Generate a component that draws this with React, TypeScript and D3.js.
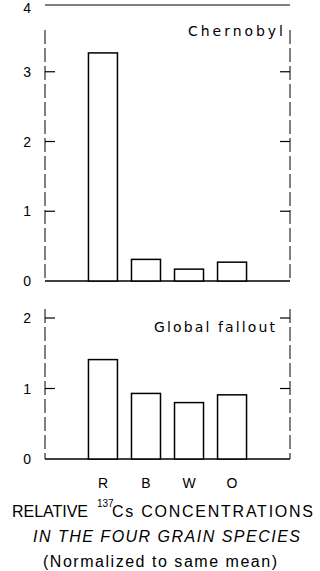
import React from "react";
import * as d3 from "d3";

const categories = ["R", "B", "W", "O"];
const chernobylValues = [3.27, 0.31, 0.17, 0.27];
const falloutValues = [1.41, 0.93, 0.8, 0.91];
const topTicks = [0, 1, 2, 3, 4];
const bottomTicks = [0, 1, 2];
const titleLines = ["IN THE FOUR GRAIN SPECIES", "(Normalized to same mean)"];

const FONT = "'Liberation Sans', Arial, sans-serif";
const WIDE = "'DejaVu Sans', sans-serif";

export default function App() {
  const W = 320, H = 571;
  const left = 45, right = 290;
  const x = d3.scaleBand<string>().domain(categories).range([left, right]).paddingInner(0.326).paddingOuter(1.01);
  const yTop = d3.scaleLinear().domain([0, 4]).range([281, 2]);
  const yBot = d3.scaleLinear().domain([0, 2]).range([459, 318]);

  const panel = (
    y: d3.ScaleLinear<number, number>,
    values: number[],
    ticks: number[],
    top: number,
    label: string,
    labelX: number,
    labelBase: number,
    labelLen: number
  ) => (
    <g>
      <line x1={left} x2={left} y1={top} y2={y(0)} stroke="#000" strokeWidth={1} strokeDasharray="14 4" />
      <line x1={right} x2={right} y1={top} y2={y(0)} stroke="#000" strokeWidth={1} strokeDasharray="14 4" />
      <line x1={left} x2={right} y1={y(0)} y2={y(0)} stroke="#000" strokeWidth={1.4} />
      {ticks.filter(t => t > 0 && y(t) > top).map(t => (
        <g key={t}>
          <line x1={left} x2={left + 10} y1={y(t)} y2={y(t)} stroke="#000" strokeWidth={1.2} />
          <line x1={right} x2={right - 10} y1={y(t)} y2={y(t)} stroke="#000" strokeWidth={1.2} />
        </g>
      ))}
      {ticks.map(t => (
        <text key={"l" + t} x={31} y={Math.max(y(t), 8) + 5} textAnchor="end" fontFamily={FONT} fontSize={14}>{t}</text>
      ))}
      {values.map((v, i) => (
        <rect key={i} x={x(categories[i])} y={y(v)} width={x.bandwidth()} height={y(0) - y(v)} fill="#fff" stroke="#000" strokeWidth={1.5} />
      ))}
      <text x={labelX} y={labelBase} fontFamily={WIDE} fontSize={14} textLength={labelLen} lengthAdjust="spacing">{label}</text>
    </g>
  );

  return (
    <svg width={W} height={H} style={{ position: "absolute", left: 0, top: 0, background: "#fff" }}>
      <line x1={left} x2={right} y1={5} y2={5} stroke="#000" strokeWidth={1.2} />
      {panel(yTop, chernobylValues, topTicks, 30, "Chernobyl", 188, 36, 95)}
      {panel(yBot, falloutValues, bottomTicks, 309, "Global fallout", 154, 332, 121)}
      {categories.map(c => (
        <text key={c} x={(x(c) as number) + x.bandwidth() / 2} y={488} textAnchor="middle" fontFamily={FONT} fontSize={14}>{c}</text>
      ))}
      <text x={12} y={517} fontFamily={FONT} fontSize={16} textLength={76} lengthAdjust="spacing">RELATIVE</text>
      <text x={97} y={507} fontFamily={FONT} fontSize={10}>137</text>
      <text x={112} y={517} fontFamily={FONT} fontSize={16} textLength={201} lengthAdjust="spacing">Cs CONCENTRATIONS</text>
      <text x={33} y={542} fontFamily={FONT} fontSize={16} fontStyle="italic" textLength={267} lengthAdjust="spacing">{titleLines[0]}</text>
      <text x={43} y={567} fontFamily={FONT} fontSize={16} textLength={234} lengthAdjust="spacing">{titleLines[1]}</text>
    </svg>
  );
}
